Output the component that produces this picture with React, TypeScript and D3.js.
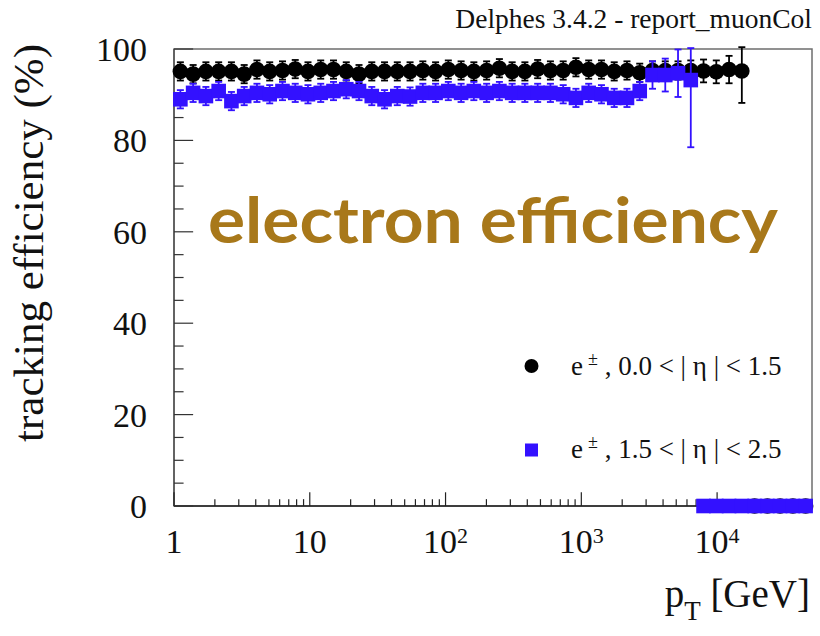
import React from 'react';
import * as d3 from 'd3';

const W = 820;
const H = 636;

// Log-spaced pT bin centres [GeV]
const ptBins = [
  1.114, 1.383, 1.718, 2.133, 2.648, 3.288, 4.083, 5.069, 6.294, 7.815,
  9.701, 12.04, 14.95, 18.57, 23.05, 28.62, 35.54, 44.12, 54.78, 68.02,
  84.45, 104.8, 130.2, 161.6, 200.7, 249.2, 309.4, 384.1, 476.9, 592.1,
  735.2, 912.8, 1133, 1407, 1747, 2169, 2693, 3344, 4152, 5155,
  6400, 7946, 9866, 12250, 15210, 18880, 23450, 29110, 36140, 44870,
];

// Tracking efficiency [%], 0.0 < |eta| < 1.5
const effCentral = [
  95.1, 94.5, 95.1, 95.1, 95.1, 94.5, 95.5, 95.1, 95.3, 95.6,
  95.1, 95.5, 95.5, 95.1, 94.5, 95.1, 95.1, 95.1, 95.1, 95.3,
  95.1, 95.5, 95.3, 95.1, 95.3, 95.8, 95.1, 95.1, 95.6, 95.3,
  95.3, 96.0, 95.5, 95.5, 95.1, 95.3, 94.8, 95.3, 95.3, 95.3,
  95.3, 95.2, 95.0, 95.5, 95.2, 0, 0, 0, 0, 0,
];
const errCentralLo = [
  2, 2, 2, 2, 2, 2, 2, 2, 2, 2,
  2, 2, 2, 2, 2, 2, 2, 2, 2, 2,
  2, 2, 2, 2, 2, 2, 2, 2, 2, 2,
  2, 2, 2, 2, 2, 2, 2, 2, 2, 2,
  2.2, 2.5, 2.5, 3, 7, 0, 0, 0, 0, 0,
];
const errCentralHi = [
  2, 2, 2, 2, 2, 2, 2, 2, 2, 2,
  2, 2, 2, 2, 2, 2, 2, 2, 2, 2,
  2, 2, 2, 2, 2, 2, 2, 2, 2, 2,
  2, 2, 2, 2, 2, 2, 2, 2, 2, 2,
  2.2, 2.5, 2.5, 3, 5.2, 0, 0, 0, 0, 0,
];

// Tracking efficiency [%], 1.5 < |eta| < 2.5
const effForward = [
  89.0, 90.4, 89.7, 90.8, 88.6, 89.7, 90.4, 90.1, 90.8, 90.4,
  90.1, 90.4, 90.8, 91.2, 90.8, 89.7, 89.0, 89.7, 89.6, 90.4,
  90.4, 90.8, 90.4, 90.8, 90.4, 90.8, 90.4, 90.4, 90.4, 90.4,
  90.1, 89.3, 90.4, 90.1, 89.3, 89.3, 90.8, 94.3, 94.3, 94.7,
  93.2, 0, 0, 0, 0, 0, 0, 0, 0, 0,
];
const errForwardLo = [
  2, 2, 2, 2, 2, 2, 2, 2, 2, 2,
  2, 2, 2, 2, 2, 2, 2, 2, 2, 2,
  2, 2, 2, 2, 2, 2, 2, 2, 2, 2,
  2, 2, 2, 2, 2, 2, 2, 3, 3.6, 5.2,
  14.7, 0, 0, 0, 0, 0, 0, 0, 0, 0,
];
const errForwardHi = [
  2, 2, 2, 2, 2, 2, 2, 2, 2, 2,
  2, 2, 2, 2, 2, 2, 2, 2, 2, 2,
  2, 2, 2, 2, 2, 2, 2, 2, 2, 2,
  2, 2, 2, 2, 2, 2, 2, 3, 3.6, 5.2,
  7, 0, 0, 0, 0, 0, 0, 0, 0, 0,
];

const yTickValues = [0, 20, 40, 60, 80, 100];
const xDecades = [1, 10, 100, 1000, 10000];

const FRAME = { left: 174, right: 812, top: 49, bottom: 506 };
const SERIF = '"Liberation Serif", "DejaVu Serif", serif';
const BLUE = '#3311ff';
const CIRCLE_R = 7.8;
const SQUARE = 14.6;

function ErrorSeries({ x, y, vals, lo, hi, color, shape }) {
  const cap = 3.5;
  return (
    <g>
      {vals.map((v, i) => {
        const cx = x(ptBins[i]);
        if (lo[i] === 0 && hi[i] === 0) return null;
        const y1 = y(v + hi[i]);
        const y2 = y(v - lo[i]);
        return (
          <g key={'e' + i} stroke={color} strokeWidth={1.8}>
            <line x1={cx} x2={cx} y1={y1} y2={y2} />
            <line x1={cx - cap} x2={cx + cap} y1={y1} y2={y1} />
            <line x1={cx - cap} x2={cx + cap} y1={y2} y2={y2} />
          </g>
        );
      })}
      {vals.map((v, i) => {
        const cx = x(ptBins[i]);
        const cy = y(v);
        return shape === 'circle' ? (
          <circle key={'m' + i} cx={cx} cy={cy} r={CIRCLE_R} fill={color} />
        ) : (
          <rect key={'m' + i} x={cx - SQUARE / 2} y={cy - SQUARE / 2} width={SQUARE} height={SQUARE} fill={color} />
        );
      })}
    </g>
  );
}

export default function App() {
  const x = d3.scaleLog().domain([1, 50000]).range([FRAME.left, FRAME.right]);
  const y = d3.scaleLinear().domain([0, 100]).range([FRAME.bottom, FRAME.top]);

  const xTicks = x.ticks();
  const yMinor = d3.range(0, 101, 5);

  const fw = FRAME.right - FRAME.left;
  const fh = FRAME.bottom - FRAME.top;
  const yMajLen = 0.03 * fw;
  const xMajLen = 0.03 * fh;

  const isDecade = (t) => Math.abs(Math.log10(t) - Math.round(Math.log10(t))) < 1e-9;

  return (
    <svg width={W} height={H} style={{ position: 'absolute', left: 0, top: 0, background: '#fff' }}
      fontFamily={SERIF}>
      {/* frame */}
      <rect x={FRAME.left} y={FRAME.top} width={fw} height={fh} fill="none" stroke="#6e6e6e" strokeWidth={1.5} />
      <line x1={FRAME.left} x2={FRAME.right} y1={FRAME.bottom} y2={FRAME.bottom} stroke="#222" strokeWidth={1.5} />
      <line x1={FRAME.left} x2={FRAME.left} y1={FRAME.top} y2={FRAME.bottom} stroke="#555" strokeWidth={1.5} />

      {/* y ticks */}
      {yMinor.map((t) => {
        const major = t % 20 === 0;
        return (
          <line key={'yt' + t} x1={FRAME.left} x2={FRAME.left + (major ? yMajLen : yMajLen / 2)}
            y1={y(t)} y2={y(t)} stroke="#333" strokeWidth={1.2} />
        );
      })}
      {yTickValues.map((t) => (
        <text key={'yl' + t} x={147} y={y(t) + 12} textAnchor="end" fontSize={34} fill="#111">{t}</text>
      ))}

      {/* x ticks */}
      {xTicks.map((t, i) => {
        const major = isDecade(t);
        return (
          <line key={'xt' + i} x1={x(t)} x2={x(t)} y1={FRAME.bottom}
            y2={FRAME.bottom - (major ? xMajLen : xMajLen / 2)} stroke="#222" strokeWidth={1.2} />
        );
      })}
      {xDecades.map((t) => {
        const e = Math.round(Math.log10(t));
        if (e === 0 || e === 1) {
          return (
            <text key={'xl' + t} x={x(t)} y={553} textAnchor="middle" fontSize={34} fill="#111">{t}</text>
          );
        }
        return (
          <text key={'xl' + t} x={x(t)} y={553} textAnchor="middle" fontSize={34} fill="#111">
            10<tspan fontSize={22} dy={-10}>{e}</tspan>
          </text>
        );
      })}

      {/* data */}
      <ErrorSeries x={x} y={y} vals={effCentral} lo={errCentralLo} hi={errCentralHi} color="#000" shape="circle" />
      <ErrorSeries x={x} y={y} vals={effForward} lo={errForwardLo} hi={errForwardHi} color={BLUE} shape="square" />

      {/* axis titles */}
      <text x={810} y={607} textAnchor="end" fontSize={39} fill="#111">
        p<tspan fontSize={27} dy={13}>T</tspan><tspan dy={-13}> [GeV]</tspan>
      </text>
      <text transform="translate(43,44) rotate(-90)" textAnchor="end" fontSize={43} fill="#111">
        tracking efficiency (%)
      </text>

      {/* header */}
      <text x={812} y={28} textAnchor="end" fontSize={27.5} fill="#111">Delphes 3.4.2 - report_muonCol</text>

      {/* legend */}
      <circle cx={531.5} cy={366} r={7} fill="#000" />
      <text x={571} y={375} fontSize={27} fill="#111">
        e<tspan fontSize={18} dy={-10} dx={5}>±</tspan><tspan dy={10}> , 0.0 &lt; | η | &lt; 1.5</tspan>
      </text>
      <rect x={525} y={443.5} width={13} height={13} fill={BLUE} />
      <text x={571} y={458} fontSize={27} fill="#111">
        e<tspan fontSize={18} dy={-10} dx={5}>±</tspan><tspan dy={10}> , 1.5 &lt; | η | &lt; 2.5</tspan>
      </text>

      {/* overlay label */}
      <text x={208} y={243} fontFamily="Lato, 'Open Sans', sans-serif" fontWeight={700} fontSize={64}
        fill="#a8781a" textLength={570} lengthAdjust="spacingAndGlyphs">electron efficiency</text>
    </svg>
  );
}
